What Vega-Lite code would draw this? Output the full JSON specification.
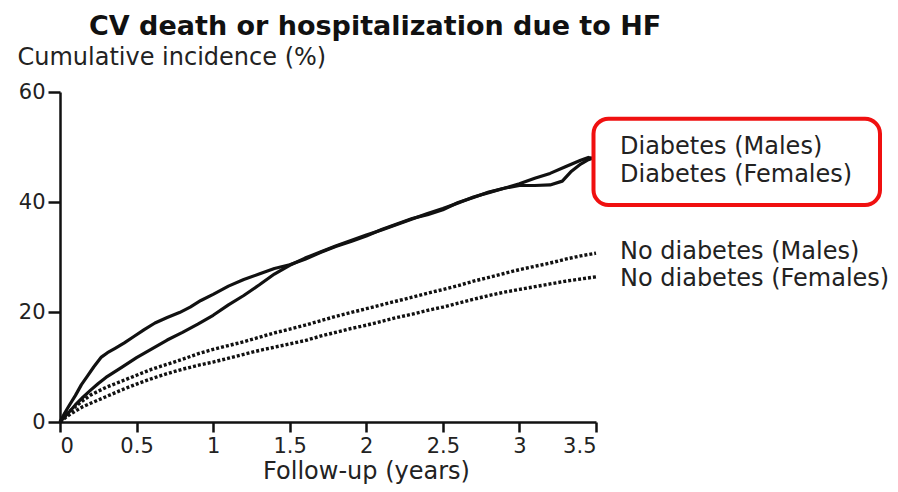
{
  "$schema": "https://vega.github.io/schema/vega-lite/v6.json",
  "width": 536,
  "height": 330,
  "autosize": {"type": "none"},
  "padding": {"left": 60, "top": 92, "right": 302, "bottom": 70},
  "background": "white",
  "title": {
    "text": "CV death or hospitalization due to HF",
    "font": "DejaVu Sans",
    "fontSize": 27,
    "fontWeight": "bold",
    "color": "#111111",
    "anchor": "start",
    "frame": "group",
    "dx": 29,
    "offset": -17,
    "baseline": "alphabetic"
  },
  "config": {
    "view": {"stroke": null},
    "axis": {
      "grid": false,
      "domainColor": "#111111",
      "domainWidth": 2.5,
      "tickColor": "#111111",
      "tickWidth": 2.5,
      "tickSize": 10,
      "labelFont": "DejaVu Sans",
      "labelFontSize": 21,
      "labelColor": "#222222",
      "titleFont": "DejaVu Sans",
      "titleFontSize": 24,
      "titleFontWeight": "normal",
      "titleColor": "#222222"
    }
  },
  "datasets": {
    "curves": [
      {"g": "Diabetes (Males)", "t": 0, "v": 0},
      {"g": "Diabetes (Males)", "t": 0.03, "v": 1.6},
      {"g": "Diabetes (Males)", "t": 0.06, "v": 3.0},
      {"g": "Diabetes (Males)", "t": 0.1, "v": 4.8},
      {"g": "Diabetes (Males)", "t": 0.14, "v": 6.8},
      {"g": "Diabetes (Males)", "t": 0.18, "v": 8.4},
      {"g": "Diabetes (Males)", "t": 0.22, "v": 10.0},
      {"g": "Diabetes (Males)", "t": 0.27, "v": 11.8},
      {"g": "Diabetes (Males)", "t": 0.31, "v": 12.6},
      {"g": "Diabetes (Males)", "t": 0.36, "v": 13.4},
      {"g": "Diabetes (Males)", "t": 0.42, "v": 14.4},
      {"g": "Diabetes (Males)", "t": 0.48, "v": 15.5},
      {"g": "Diabetes (Males)", "t": 0.55, "v": 16.8},
      {"g": "Diabetes (Males)", "t": 0.62, "v": 18.0},
      {"g": "Diabetes (Males)", "t": 0.7, "v": 19.0},
      {"g": "Diabetes (Males)", "t": 0.78, "v": 19.9},
      {"g": "Diabetes (Males)", "t": 0.85, "v": 20.9},
      {"g": "Diabetes (Males)", "t": 0.92, "v": 22.1},
      {"g": "Diabetes (Males)", "t": 1.0, "v": 23.2},
      {"g": "Diabetes (Males)", "t": 1.1, "v": 24.7},
      {"g": "Diabetes (Males)", "t": 1.2, "v": 25.9},
      {"g": "Diabetes (Males)", "t": 1.3, "v": 26.9},
      {"g": "Diabetes (Males)", "t": 1.4, "v": 27.9},
      {"g": "Diabetes (Males)", "t": 1.5, "v": 28.6},
      {"g": "Diabetes (Males)", "t": 1.6, "v": 29.6},
      {"g": "Diabetes (Males)", "t": 1.7, "v": 30.8},
      {"g": "Diabetes (Males)", "t": 1.8, "v": 31.9},
      {"g": "Diabetes (Males)", "t": 1.9, "v": 32.8},
      {"g": "Diabetes (Males)", "t": 2.0, "v": 33.8},
      {"g": "Diabetes (Males)", "t": 2.1, "v": 35.0},
      {"g": "Diabetes (Males)", "t": 2.2, "v": 36.0},
      {"g": "Diabetes (Males)", "t": 2.3, "v": 37.0},
      {"g": "Diabetes (Males)", "t": 2.4, "v": 37.7},
      {"g": "Diabetes (Males)", "t": 2.5, "v": 38.6},
      {"g": "Diabetes (Males)", "t": 2.6, "v": 39.9},
      {"g": "Diabetes (Males)", "t": 2.7, "v": 40.8},
      {"g": "Diabetes (Males)", "t": 2.8, "v": 41.8},
      {"g": "Diabetes (Males)", "t": 2.9, "v": 42.5},
      {"g": "Diabetes (Males)", "t": 3.0, "v": 43.3},
      {"g": "Diabetes (Males)", "t": 3.1, "v": 44.3},
      {"g": "Diabetes (Males)", "t": 3.2, "v": 45.2},
      {"g": "Diabetes (Males)", "t": 3.3, "v": 46.4},
      {"g": "Diabetes (Males)", "t": 3.4, "v": 47.6},
      {"g": "Diabetes (Males)", "t": 3.45, "v": 48.1},
      {"g": "Diabetes (Males)", "t": 3.49, "v": 47.9},

      {"g": "Diabetes (Females)", "t": 0, "v": 0},
      {"g": "Diabetes (Females)", "t": 0.05, "v": 1.5},
      {"g": "Diabetes (Females)", "t": 0.1, "v": 3.1},
      {"g": "Diabetes (Females)", "t": 0.15, "v": 4.5},
      {"g": "Diabetes (Females)", "t": 0.2, "v": 5.8},
      {"g": "Diabetes (Females)", "t": 0.25, "v": 7.0},
      {"g": "Diabetes (Females)", "t": 0.3, "v": 8.1},
      {"g": "Diabetes (Females)", "t": 0.4, "v": 9.9},
      {"g": "Diabetes (Females)", "t": 0.5, "v": 11.7},
      {"g": "Diabetes (Females)", "t": 0.6, "v": 13.3},
      {"g": "Diabetes (Females)", "t": 0.7, "v": 14.9},
      {"g": "Diabetes (Females)", "t": 0.8, "v": 16.3},
      {"g": "Diabetes (Females)", "t": 0.9, "v": 17.8},
      {"g": "Diabetes (Females)", "t": 1.0, "v": 19.4},
      {"g": "Diabetes (Females)", "t": 1.1, "v": 21.3},
      {"g": "Diabetes (Females)", "t": 1.2, "v": 23.0},
      {"g": "Diabetes (Females)", "t": 1.3, "v": 24.9},
      {"g": "Diabetes (Females)", "t": 1.4, "v": 26.9},
      {"g": "Diabetes (Females)", "t": 1.5, "v": 28.5},
      {"g": "Diabetes (Females)", "t": 1.6, "v": 29.8},
      {"g": "Diabetes (Females)", "t": 1.7, "v": 30.9},
      {"g": "Diabetes (Females)", "t": 1.8, "v": 32.0},
      {"g": "Diabetes (Females)", "t": 1.9, "v": 33.0},
      {"g": "Diabetes (Females)", "t": 2.0, "v": 34.0},
      {"g": "Diabetes (Females)", "t": 2.1, "v": 34.9},
      {"g": "Diabetes (Females)", "t": 2.2, "v": 35.9},
      {"g": "Diabetes (Females)", "t": 2.3, "v": 36.9},
      {"g": "Diabetes (Females)", "t": 2.4, "v": 37.9},
      {"g": "Diabetes (Females)", "t": 2.5, "v": 38.8},
      {"g": "Diabetes (Females)", "t": 2.6, "v": 39.8},
      {"g": "Diabetes (Females)", "t": 2.7, "v": 40.9},
      {"g": "Diabetes (Females)", "t": 2.8, "v": 41.7},
      {"g": "Diabetes (Females)", "t": 2.9, "v": 42.5},
      {"g": "Diabetes (Females)", "t": 3.0, "v": 43.0},
      {"g": "Diabetes (Females)", "t": 3.1, "v": 43.0},
      {"g": "Diabetes (Females)", "t": 3.2, "v": 43.1},
      {"g": "Diabetes (Females)", "t": 3.28, "v": 43.8},
      {"g": "Diabetes (Females)", "t": 3.34, "v": 45.6},
      {"g": "Diabetes (Females)", "t": 3.4, "v": 46.9},
      {"g": "Diabetes (Females)", "t": 3.45, "v": 47.7},
      {"g": "Diabetes (Females)", "t": 3.49, "v": 48.1},

      {"g": "No diabetes (Males)", "t": 0, "v": 0},
      {"g": "No diabetes (Males)", "t": 0.05, "v": 1.6},
      {"g": "No diabetes (Males)", "t": 0.1, "v": 2.8},
      {"g": "No diabetes (Males)", "t": 0.15, "v": 3.9},
      {"g": "No diabetes (Males)", "t": 0.2, "v": 4.9},
      {"g": "No diabetes (Males)", "t": 0.3, "v": 6.3},
      {"g": "No diabetes (Males)", "t": 0.4, "v": 7.4},
      {"g": "No diabetes (Males)", "t": 0.5, "v": 8.5},
      {"g": "No diabetes (Males)", "t": 0.6, "v": 9.6},
      {"g": "No diabetes (Males)", "t": 0.7, "v": 10.5},
      {"g": "No diabetes (Males)", "t": 0.8, "v": 11.4},
      {"g": "No diabetes (Males)", "t": 0.9, "v": 12.4},
      {"g": "No diabetes (Males)", "t": 1.0, "v": 13.2},
      {"g": "No diabetes (Males)", "t": 1.1, "v": 13.9},
      {"g": "No diabetes (Males)", "t": 1.2, "v": 14.6},
      {"g": "No diabetes (Males)", "t": 1.3, "v": 15.4},
      {"g": "No diabetes (Males)", "t": 1.4, "v": 16.2},
      {"g": "No diabetes (Males)", "t": 1.5, "v": 16.9},
      {"g": "No diabetes (Males)", "t": 1.6, "v": 17.6},
      {"g": "No diabetes (Males)", "t": 1.7, "v": 18.4},
      {"g": "No diabetes (Males)", "t": 1.8, "v": 19.2},
      {"g": "No diabetes (Males)", "t": 1.9, "v": 19.9},
      {"g": "No diabetes (Males)", "t": 2.0, "v": 20.6},
      {"g": "No diabetes (Males)", "t": 2.1, "v": 21.3},
      {"g": "No diabetes (Males)", "t": 2.2, "v": 22.0},
      {"g": "No diabetes (Males)", "t": 2.3, "v": 22.7},
      {"g": "No diabetes (Males)", "t": 2.4, "v": 23.4},
      {"g": "No diabetes (Males)", "t": 2.5, "v": 24.1},
      {"g": "No diabetes (Males)", "t": 2.6, "v": 24.8},
      {"g": "No diabetes (Males)", "t": 2.7, "v": 25.6},
      {"g": "No diabetes (Males)", "t": 2.8, "v": 26.3},
      {"g": "No diabetes (Males)", "t": 2.9, "v": 27.0},
      {"g": "No diabetes (Males)", "t": 3.0, "v": 27.7},
      {"g": "No diabetes (Males)", "t": 3.1, "v": 28.3},
      {"g": "No diabetes (Males)", "t": 3.2, "v": 28.9},
      {"g": "No diabetes (Males)", "t": 3.3, "v": 29.6},
      {"g": "No diabetes (Males)", "t": 3.4, "v": 30.2},
      {"g": "No diabetes (Males)", "t": 3.5, "v": 30.7},

      {"g": "No diabetes (Females)", "t": 0, "v": 0},
      {"g": "No diabetes (Females)", "t": 0.05, "v": 1.1},
      {"g": "No diabetes (Females)", "t": 0.1, "v": 2.0},
      {"g": "No diabetes (Females)", "t": 0.15, "v": 2.8},
      {"g": "No diabetes (Females)", "t": 0.2, "v": 3.4},
      {"g": "No diabetes (Females)", "t": 0.3, "v": 4.6},
      {"g": "No diabetes (Females)", "t": 0.4, "v": 5.8},
      {"g": "No diabetes (Females)", "t": 0.5, "v": 6.9},
      {"g": "No diabetes (Females)", "t": 0.6, "v": 7.9},
      {"g": "No diabetes (Females)", "t": 0.7, "v": 8.8},
      {"g": "No diabetes (Females)", "t": 0.8, "v": 9.6},
      {"g": "No diabetes (Females)", "t": 0.9, "v": 10.3},
      {"g": "No diabetes (Females)", "t": 1.0, "v": 10.9},
      {"g": "No diabetes (Females)", "t": 1.1, "v": 11.6},
      {"g": "No diabetes (Females)", "t": 1.2, "v": 12.3},
      {"g": "No diabetes (Females)", "t": 1.3, "v": 13.0},
      {"g": "No diabetes (Females)", "t": 1.4, "v": 13.6},
      {"g": "No diabetes (Females)", "t": 1.5, "v": 14.2},
      {"g": "No diabetes (Females)", "t": 1.6, "v": 14.8},
      {"g": "No diabetes (Females)", "t": 1.7, "v": 15.6},
      {"g": "No diabetes (Females)", "t": 1.8, "v": 16.3},
      {"g": "No diabetes (Females)", "t": 1.9, "v": 17.0},
      {"g": "No diabetes (Females)", "t": 2.0, "v": 17.6},
      {"g": "No diabetes (Females)", "t": 2.1, "v": 18.3},
      {"g": "No diabetes (Females)", "t": 2.2, "v": 19.0},
      {"g": "No diabetes (Females)", "t": 2.3, "v": 19.6},
      {"g": "No diabetes (Females)", "t": 2.4, "v": 20.3},
      {"g": "No diabetes (Females)", "t": 2.5, "v": 20.9},
      {"g": "No diabetes (Females)", "t": 2.6, "v": 21.6},
      {"g": "No diabetes (Females)", "t": 2.7, "v": 22.3},
      {"g": "No diabetes (Females)", "t": 2.8, "v": 23.0},
      {"g": "No diabetes (Females)", "t": 2.9, "v": 23.6},
      {"g": "No diabetes (Females)", "t": 3.0, "v": 24.1},
      {"g": "No diabetes (Females)", "t": 3.1, "v": 24.6},
      {"g": "No diabetes (Females)", "t": 3.2, "v": 25.1},
      {"g": "No diabetes (Females)", "t": 3.3, "v": 25.6},
      {"g": "No diabetes (Females)", "t": 3.4, "v": 26.0},
      {"g": "No diabetes (Females)", "t": 3.5, "v": 26.4}
    ]
  },
  "layer": [
    {
      "data": {"name": "curves"},
      "transform": [{"filter": "indexof(datum.g, 'No diabetes') < 0"}],
      "mark": {"type": "line", "color": "#111111", "strokeWidth": 3.2, "strokeJoin": "round"},
      "encoding": {
        "x": {
          "field": "t", "type": "quantitative",
          "scale": {"domain": [0, 3.5], "nice": false, "zero": false},
          "axis": {
            "values": [0, 0.5, 1, 1.5, 2, 2.5, 3, 3.5],
            "format": "~g",
            "labelPadding": 3,
            "title": "Follow-up (years)",
            "titleX": 306,
            "titlePadding": 3
          }
        },
        "y": {
          "field": "v", "type": "quantitative",
          "scale": {"domain": [0, 60], "nice": false},
          "axis": {
            "values": [0, 20, 40, 60],
            "labelPadding": 3,
            "tickSize": 12,
            "title": "Cumulative incidence (%)",
            "titleAngle": 0,
            "titleAlign": "left",
            "titleBaseline": "alphabetic",
            "titleX": -43,
            "titleY": -28
          }
        },
        "detail": {"field": "g"}
      }
    },
    {
      "data": {"name": "curves"},
      "transform": [{"filter": "indexof(datum.g, 'No diabetes') >= 0"}],
      "mark": {"type": "line", "color": "#111111", "strokeWidth": 3.4, "strokeDash": [3, 2]},
      "encoding": {
        "x": {"field": "t", "type": "quantitative"},
        "y": {"field": "v", "type": "quantitative"},
        "detail": {"field": "g"}
      }
    },
    {
      "data": {"values": [{"note": "highlight"}]},
      "mark": {"type": "rect", "fill": "transparent", "stroke": "#f01010", "strokeWidth": 4, "cornerRadius": 15},
      "encoding": {
        "x": {"datum": 3.4837},
        "x2": {"datum": 5.3545},
        "y": {"datum": 55.15},
        "y2": {"datum": 39.45}
      }
    },
    {
      "data": {"values": [{"label": "Diabetes (Males)"}]},
      "mark": {"type": "text", "align": "left", "baseline": "alphabetic", "dx": 24, "font": "DejaVu Sans", "fontSize": 24, "color": "#222222"},
      "encoding": {"x": {"datum": 3.5}, "y": {"datum": 48.73}, "text": {"field": "label"}}
    },
    {
      "data": {"values": [{"label": "Diabetes (Females)"}]},
      "mark": {"type": "text", "align": "left", "baseline": "alphabetic", "dx": 24, "font": "DejaVu Sans", "fontSize": 24, "color": "#222222"},
      "encoding": {"x": {"datum": 3.5}, "y": {"datum": 43.69}, "text": {"field": "label"}}
    },
    {
      "data": {"values": [{"label": "No diabetes (Males)"}]},
      "mark": {"type": "text", "align": "left", "baseline": "alphabetic", "dx": 24, "font": "DejaVu Sans", "fontSize": 24, "color": "#222222"},
      "encoding": {"x": {"datum": 3.5}, "y": {"datum": 29.64}, "text": {"field": "label"}}
    },
    {
      "data": {"values": [{"label": "No diabetes (Females)"}]},
      "mark": {"type": "text", "align": "left", "baseline": "alphabetic", "dx": 24, "font": "DejaVu Sans", "fontSize": 24, "color": "#222222"},
      "encoding": {"x": {"datum": 3.5}, "y": {"datum": 24.78}, "text": {"field": "label"}}
    }
  ]
}
